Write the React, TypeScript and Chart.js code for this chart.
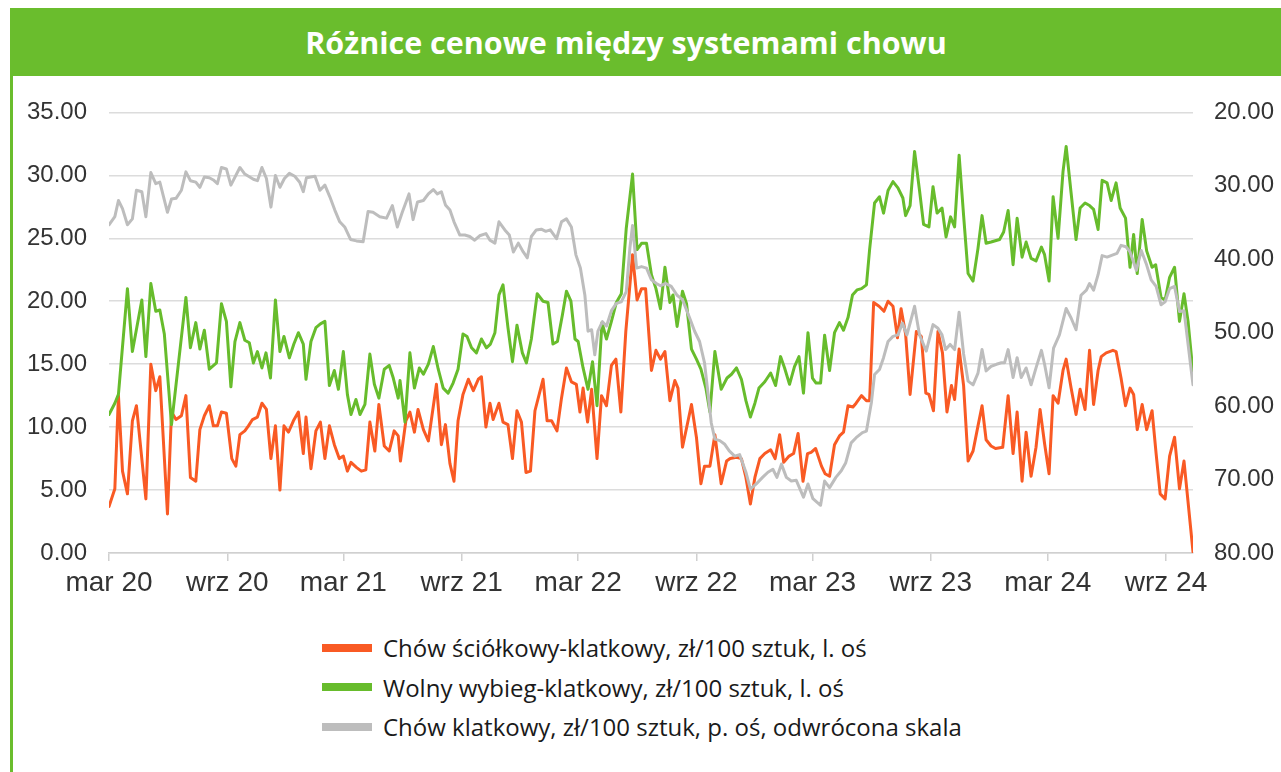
import React, { useEffect, useRef } from "react";
import { Chart, registerables } from "chart.js";

Chart.register(...registerables);

const TITLE = "Różnice cenowe między systemami chowu";

// x axis: weeks since 1 March 2020
const xTickWeeks = [0, 26.3, 52.1, 78.4, 104.3, 130.6, 156.4, 182.7, 208.7, 235.0];
const xTickLabels = ["mar 20", "wrz 20", "mar 21", "wrz 21", "mar 22", "wrz 22", "mar 23", "wrz 23", "mar 24", "wrz 24"];
const xMaxWeek = 241;

const leftAxis = { min: 0, max: 35, step: 5 };
const rightAxis = { min: 20, max: 80, step: 10 };

const seriesNames = [
  "Chów ściółkowy-klatkowy, zł/100 sztuk, l. oś",
  "Wolny wybieg-klatkowy, zł/100 sztuk, l. oś",
  "Chów klatkowy, zł/100 sztuk, p. oś, odwrócona skala",
];
const seriesColors = ["#F95A24", "#67BC2C", "#BDBDBD"];

// [week, value]
const litterVsCage = [
  [0, 3.7], [1.3, 5.1], [2.1, 12.5], [3, 6.5], [4.1, 4.7], [5.2, 10.5], [6.1, 11.7], [8.2, 4.3], [9.3, 15.0], [10.4, 12.9],
  [11.3, 14.0], [13, 3.1], [13.9, 11.2], [14.9, 10.6], [16.1, 10.9], [17.1, 12.5], [18.1, 6.0], [19.3, 5.7], [20.2, 9.8], [21.2, 10.9],
  [22.3, 11.7], [23.2, 10.1], [24.1, 10.1], [25, 11.2], [26.1, 11.1], [27.3, 7.5], [28.2, 6.9], [29.1, 9.4], [30.2, 9.7], [31, 10.1],
  [31.9, 10.6], [33, 10.8], [34, 11.9], [35, 11.4], [36, 7.5], [37, 10.1], [38, 5.0], [38.9, 10.1], [39.9, 9.6], [41, 10.5],
  [42.1, 11.2], [43.2, 7.9], [43.8, 10.8], [44.9, 6.7], [46, 9.7], [47, 10.4], [48, 7.5], [49, 10.1], [50.1, 8.6], [51.2, 7.5],
  [52.1, 7.7], [53, 6.5], [53.8, 7.2], [55, 6.8], [56.1, 6.5], [57.1, 6.6], [58, 10.4], [59.1, 8.1], [60, 11.8], [61.2, 8.5],
  [62.3, 8.1], [63.4, 9.7], [64.3, 9.3], [64.8, 7.3], [66, 10.5], [66.9, 11.2], [67.9, 9.6], [68.7, 11.4], [69.9, 9.8], [71, 8.9],
  [72.8, 13.4], [73.9, 8.6], [74.8, 10.2], [75.8, 7.1], [76.7, 5.7], [77.6, 10.5], [78.7, 12.6], [79.9, 13.8], [81, 12.9], [82.1, 13.8],
  [82.8, 14.0], [83.8, 10.0], [84.7, 11.9], [85.4, 10.6], [86.7, 11.9], [87.6, 10.4], [88.7, 10.2], [89.7, 7.5], [90.7, 11.3], [91.7, 10.4],
  [92.7, 6.4], [93.7, 6.5], [94.7, 11.3], [96.5, 13.8], [97.4, 10.5], [98.4, 10.5], [99.6, 9.7], [100.6, 12.3], [101.7, 14.7], [102.8, 13.6],
  [103.9, 13.4], [104.7, 11.2], [105.4, 13.1], [106.4, 10.4], [107.3, 13.0], [108.5, 7.5], [109.5, 12.5], [110.6, 11.7], [111.7, 14.9], [112.7, 15.4],
  [113.8, 11.2], [114.9, 17.6], [116.4, 23.7], [117.4, 20.1], [118.4, 21.0], [119.3, 21.0], [120.6, 14.5], [121.6, 16.1], [122.6, 15.4], [123.6, 16.0],
  [124.7, 12.1], [125.8, 13.7], [126.5, 13.1], [127.5, 8.4], [129.5, 11.8], [130.6, 9.2], [131.6, 5.5], [132.4, 6.9], [133.6, 6.9], [134.7, 9.4],
  [136.1, 5.5], [137.3, 7.3], [138.1, 7.5], [139.5, 7.6], [140.6, 7.5], [141.6, 6.0], [142.6, 3.9], [143.6, 6.0], [144.7, 7.5], [145.8, 7.9],
  [147.1, 8.2], [148.1, 7.5], [149.1, 9.4], [150, 7.2], [151.2, 7.7], [152.2, 7.9], [153.2, 9.5], [154.3, 5.7], [155.3, 7.9], [156.1, 8.0],
  [157.1, 8.3], [158.4, 6.9], [159.2, 6.3], [160.2, 6.1], [161.3, 8.6], [162.4, 9.3], [163.3, 9.6], [164.3, 11.7], [165.4, 11.6], [166.1, 11.9],
  [167.3, 12.5], [168.4, 12.1], [169.1, 12.1], [170, 19.9], [171.2, 19.6], [172.3, 19.2], [173.2, 20.0], [174.3, 19.6], [175.3, 17.1], [176.1, 19.4],
  [177.1, 17.4], [178.1, 12.6], [179.5, 17.6], [180.6, 17.2], [181.6, 12.7], [182.3, 12.6], [183.3, 11.3], [184.3, 17.6], [185.3, 15.9], [186.3, 11.2],
  [187.3, 13.3], [188, 12.2], [189, 16.2], [190, 13.3], [191, 7.3], [192.1, 8.1], [193.2, 10.1], [194.1, 11.7], [195, 9.0], [196.1, 8.5],
  [197.1, 8.3], [198.7, 8.4], [199.9, 12.5], [201, 7.9], [201.9, 11.2], [203, 5.7], [203.9, 9.6], [205, 6.1], [206.1, 8.4], [207, 11.4],
  [208, 8.7], [209, 6.3], [209.9, 12.5], [211, 11.9], [212.1, 14.5], [212.8, 15.4], [213.9, 13.1], [215, 11.0], [215.9, 13.0], [217, 11.4],
  [218, 16.1], [218.9, 11.8], [219.9, 14.5], [220.6, 15.6], [221.7, 15.9], [223.2, 16.1], [223.9, 16.0], [225, 13.9], [226, 11.7], [227, 13.1],
  [227.8, 12.6], [228.6, 9.8], [229.7, 11.8], [230.7, 9.8], [231.9, 11.3], [232.8, 7.9], [233.7, 4.7], [234.8, 4.3], [235.8, 7.7], [236.9, 9.2],
  [238, 5.1], [239, 7.3], [241, 0.1],
];

const freeRangeVsCage = [
  [0, 11.0], [1.3, 11.9], [2.1, 12.6], [4.1, 21.0], [5.2, 16.0], [7.3, 20.1], [8.2, 15.6], [9.3, 21.4], [10.4, 19.2], [11.3, 19.3],
  [12.3, 17.4], [13.9, 10.2], [17.1, 20.3], [18.1, 16.3], [19.3, 18.3], [20.2, 16.2], [21.2, 17.7], [22.3, 14.6], [23.9, 15.1], [25, 19.8],
  [26.1, 18.4], [27.1, 13.2], [28, 16.8], [29.1, 18.3], [30.2, 16.9], [31.2, 16.7], [32.1, 15.1], [33, 16.0], [34, 14.7], [34.9, 15.9],
  [35.9, 13.9], [37, 20.1], [38, 16.0], [38.9, 17.2], [40.1, 15.5], [41.1, 16.6], [42.1, 17.5], [43.2, 16.6], [43.8, 13.8], [44.9, 16.8],
  [46, 17.9], [47, 18.2], [48, 18.4], [49, 13.3], [50.1, 14.5], [51, 13.0], [52.1, 16.0], [53, 12.6], [53.8, 11.0], [54.9, 12.2],
  [55.8, 11.0], [56.9, 11.8], [58, 15.8], [59, 13.4], [60, 12.3], [61.2, 14.6], [62.3, 14.9], [63.2, 13.9], [64.3, 12.3], [64.7, 13.7],
  [65.8, 10.4], [66.9, 15.9], [67.9, 13.1], [69, 14.7], [69.9, 14.2], [71, 15.0], [72.1, 16.4], [73.2, 14.6], [74.3, 13.1], [75.4, 12.7],
  [76.5, 13.5], [77.6, 14.6], [78.7, 17.4], [79.6, 17.2], [80.6, 16.3], [81.7, 15.9], [82.8, 17.0], [83.9, 16.3], [84.8, 16.6], [85.8, 17.5],
  [86.7, 20.5], [87.6, 21.3], [88.7, 17.9], [89.7, 15.2], [90.7, 18.1], [91.9, 15.9], [92.8, 15.1], [93.9, 17.0], [95.2, 20.6], [96.5, 20.0],
  [97.6, 19.9], [98.7, 16.6], [99.7, 16.8], [100.8, 18.9], [101.7, 20.8], [102.7, 20.0], [103.6, 17.0], [104.3, 16.8], [105.4, 14.7], [106.5, 13.0],
  [107.5, 15.2], [108.5, 11.7], [109.6, 18.3], [110.6, 17.0], [111.7, 18.4], [112.8, 19.9], [113.9, 20.6], [115, 25.8], [116.4, 30.1], [117.4, 24.1],
  [118.4, 24.6], [119.5, 24.6], [120.6, 22.1], [121.6, 21.0], [122.6, 19.4], [123.6, 22.7], [124.7, 19.9], [125.4, 20.5], [126.3, 18.0], [127.5, 20.8],
  [128.4, 19.8], [129.5, 16.2], [130.6, 15.4], [131.6, 14.6], [132.7, 13.1], [133.6, 11.2], [134.7, 16.0], [136.1, 13.0], [137.4, 13.9], [138.4, 14.2],
  [139.5, 14.7], [140.6, 13.8], [141.6, 12.1], [142.6, 10.8], [143.6, 11.9], [144.5, 13.1], [145.8, 13.6], [147.1, 14.3], [148.2, 13.3], [149.3, 15.6],
  [150.2, 14.7], [151.3, 13.4], [152.4, 14.8], [153.4, 15.6], [154.4, 12.7], [155.4, 17.5], [156.4, 13.9], [157.2, 13.5], [158.2, 13.5], [159.1, 17.3],
  [160.2, 14.5], [161.3, 17.5], [162.4, 18.3], [163.3, 17.7], [164.3, 18.7], [165.3, 20.5], [166.3, 20.9], [167.3, 21.0], [168.4, 21.3], [169.1, 24.1],
  [170.2, 27.8], [171.3, 28.3], [172.2, 27.0], [173.2, 28.8], [174.3, 29.5], [175.4, 29.0], [176.5, 28.2], [177.1, 26.8], [178.1, 27.6], [179.1, 31.9],
  [180.2, 28.8], [181.1, 26.1], [182.3, 25.9], [183.2, 29.1], [184.1, 27.0], [185.2, 27.4], [186.1, 25.1], [187.1, 26.7], [188, 25.9], [189, 31.6],
  [190, 26.8], [191, 22.2], [192.1, 21.6], [193.2, 24.2], [194.1, 26.8], [195, 24.6], [196.1, 24.7], [198, 24.9], [198.9, 25.5], [199.9, 27.2],
  [201, 22.9], [201.9, 26.6], [203, 23.5], [203.9, 24.7], [205, 23.4], [206.1, 23.2], [207.3, 24.3], [208, 23.7], [209, 21.6], [209.9, 28.3],
  [211, 25.0], [212.1, 30.3], [212.8, 32.3], [213.9, 28.6], [215, 24.9], [215.9, 27.4], [217, 27.8], [218, 27.6], [218.9, 27.3], [219.9, 25.7],
  [220.8, 29.6], [221.9, 29.4], [222.8, 28.0], [223.9, 29.4], [224.8, 27.4], [226, 26.6], [227, 22.7], [227.8, 25.3], [228.6, 22.2], [229.7, 26.5],
  [230.7, 24.0], [231.9, 22.7], [232.7, 22.9], [233.9, 20.3], [234.8, 20.1], [235.8, 21.9], [236.9, 22.7], [238, 18.4], [239, 20.6], [239.9, 18.4],
  [241, 14.3],
];

const cagePrice = [
  [0, 35.3], [1.3, 34.2], [2.1, 32.0], [3, 33.1], [4.1, 35.3], [5.2, 34.5], [6.1, 30.6], [7.3, 30.8], [8.2, 34.2], [9.3, 28.2],
  [10.4, 29.7], [11.3, 29.5], [13, 33.6], [13.9, 31.8], [14.9, 31.7], [16.1, 30.6], [17.1, 28.1], [18.1, 29.3], [19.3, 29.5], [20.2, 30.2],
  [21.2, 28.8], [22.3, 28.9], [23.2, 29.2], [24.1, 29.7], [25, 27.5], [26.1, 27.7], [27.1, 29.9], [29.1, 27.5], [30.2, 28.4], [32.1, 29.1],
  [33, 29.3], [34, 27.5], [35, 29.0], [36, 32.9], [37, 28.6], [38, 30.2], [39, 29.0], [40.1, 28.3], [41.3, 28.7], [42.4, 29.5],
  [43.2, 30.8], [43.9, 28.9], [45.8, 28.7], [46.9, 30.6], [48, 29.9], [49.1, 31.5], [50.2, 33.3], [51.3, 34.9], [52.4, 35.6], [53.7, 37.3],
  [55, 37.5], [56.5, 37.6], [57.6, 33.5], [58.7, 33.6], [60.2, 34.2], [61.7, 34.4], [63, 32.7], [64.1, 35.6], [65.2, 33.6], [66.7, 31.1],
  [67.6, 34.6], [68.6, 32.2], [69.9, 32.0], [71, 31.1], [72.1, 30.5], [73, 31.1], [73.9, 30.8], [74.8, 32.6], [75.8, 33.3], [76.7, 34.9],
  [78, 36.7], [79.1, 36.7], [80.2, 36.9], [81.3, 37.4], [82.4, 36.8], [83.8, 36.5], [84.7, 37.4], [85.8, 37.8], [86.7, 34.9], [88, 36.0],
  [89, 36.7], [89.9, 39.0], [91, 37.8], [92.1, 39.0], [93, 39.8], [93.9, 36.9], [95, 36.0], [96.1, 35.9], [97.1, 36.2], [98.1, 36.0],
  [99.5, 37.2], [100.6, 34.9], [101.7, 34.5], [102.8, 35.6], [103.8, 39.4], [104.8, 41.2], [105.8, 44.9], [106.5, 49.8], [107.3, 49.6], [108, 53.0],
  [108.7, 49.8], [109.7, 48.5], [110.6, 49.1], [111.7, 47.0], [112.8, 46.0], [113.9, 45.8], [115, 44.4], [115.8, 38.5], [116.4, 35.4], [117.3, 41.2],
  [118.4, 41.0], [119.5, 41.2], [120.6, 42.8], [121.7, 43.3], [122.6, 43.6], [123.8, 43.3], [125, 43.7], [126.3, 44.9], [127.5, 45.5], [129.1, 48.0],
  [130.2, 49.8], [131.3, 51.2], [132.4, 54.1], [133.2, 58.4], [133.9, 62.3], [134.7, 64.5], [135.8, 64.7], [136.9, 65.2], [137.9, 66.1], [139.1, 66.8],
  [140.2, 66.6], [141.6, 69.0], [142.6, 71.3], [143.9, 70.6], [145.3, 69.7], [146.5, 69.0], [147.6, 68.6], [148.5, 69.7], [149.5, 67.9], [150.6, 69.7],
  [151.7, 70.2], [152.8, 70.1], [154.4, 72.4], [155.4, 70.6], [156.5, 72.6], [158.2, 73.5], [159.1, 70.2], [160.2, 71.1], [161.6, 69.7], [162.8, 68.8],
  [163.8, 67.7], [165, 65.0], [166.1, 64.3], [167.5, 63.6], [168.4, 63.4], [169.5, 59.5], [170.2, 55.7], [171.3, 55.0], [172.2, 53.4], [173.2, 51.2],
  [174.3, 50.5], [175.4, 50.3], [176.4, 48.7], [177.4, 50.3], [179.1, 46.4], [180.2, 50.3], [181.7, 52.5], [183.2, 48.9], [184.3, 49.4], [185.2, 50.3],
  [186, 52.3], [187, 51.6], [188, 52.3], [189, 47.2], [190, 52.9], [191, 56.6], [192.1, 57.1], [193.2, 55.5], [194.1, 52.3], [195, 55.2],
  [196.1, 54.6], [197.3, 54.3], [198.4, 54.1], [199.1, 54.1], [199.9, 52.3], [201, 56.1], [201.9, 53.4], [202.8, 56.1], [203.9, 54.8], [205, 57.1],
  [206.1, 54.8], [207.3, 52.4], [208, 54.3], [209, 57.5], [210, 52.1], [211.3, 50.3], [212.8, 46.7], [213.9, 48.0], [215, 49.6], [216.1, 44.9],
  [217.3, 44.2], [218, 43.3], [218.9, 44.2], [219.9, 42.1], [220.8, 39.5], [221.9, 39.7], [223.2, 39.4], [224.1, 39.2], [225, 38.1], [226.1, 38.3],
  [227, 39.0], [228.4, 41.5], [229.5, 38.8], [230.6, 40.6], [231.7, 42.8], [232.8, 43.7], [233.9, 46.2], [234.8, 45.8], [235.8, 44.0], [236.9, 43.7],
  [238, 47.1], [239, 47.0], [241, 57.1],
];

const GREEN = "#6ABD2D";
const AXIS_FONT = "'Liberation Sans', Arial, sans-serif";
const TEXT_FONT = "'Open Sans', 'Noto Sans', sans-serif";

function toPoints(rows: number[][]) {
  return rows.map(([x, y]) => ({ x, y }));
}

function ChartCanvas() {
  const ref = useRef<HTMLCanvasElement | null>(null);
  useEffect(() => {
    if (!ref.current) return;
    const chart = new Chart(ref.current, {
      type: "line",
      data: {
        datasets: [
          {
            label: seriesNames[0],
            data: toPoints(litterVsCage),
            borderColor: seriesColors[0],
            backgroundColor: seriesColors[0],
            yAxisID: "y",
            order: 2,
          },
          {
            label: seriesNames[1],
            data: toPoints(freeRangeVsCage),
            borderColor: seriesColors[1],
            backgroundColor: seriesColors[1],
            yAxisID: "y",
            order: 1,
          },
          {
            label: seriesNames[2],
            data: toPoints(cagePrice),
            borderColor: seriesColors[2],
            backgroundColor: seriesColors[2],
            yAxisID: "y2",
            order: 0,
          },
        ],
      },
      options: {
        animation: false,
        responsive: false,
        parsing: false,
        normalized: true,
        layout: { padding: { top: 34, left: 0, right: 0, bottom: 0 } },
        elements: {
          line: { borderWidth: 3, tension: 0, borderJoinStyle: "round", borderCapStyle: "round" },
          point: { radius: 0, hoverRadius: 0 },
        },
        plugins: {
          legend: { display: false },
          tooltip: { enabled: false },
          title: { display: false },
        },
        scales: {
          x: {
            type: "linear",
            min: 0,
            max: xMaxWeek,
            afterBuildTicks: (scale: any) => {
              scale.ticks = xTickWeeks.map((v) => ({ value: v }));
            },
            afterFit: (scale: any) => {
              scale.height = 67;
            },
            ticks: {
              autoSkip: false,
              maxRotation: 0,
              minRotation: 0,
              padding: 5,
              color: "#333333",
              font: { family: AXIS_FONT, size: 28 },
              callback: (_v: any, i: number) => xTickLabels[i],
            },
            grid: {
              drawOnChartArea: false,
              drawTicks: true,
              tickLength: 8,
              color: "#d0d0d0",
              lineWidth: 1.5,
            },
            border: { display: true, color: "#d0d0d0", width: 1.5 },
          },
          y: {
            type: "linear",
            position: "left",
            min: leftAxis.min,
            max: leftAxis.max,
            afterFit: (scale: any) => {
              scale.width = 96;
            },
            ticks: {
              stepSize: leftAxis.step,
              padding: 22,
              color: "#333333",
              font: { family: AXIS_FONT, size: 24 },
              callback: (v: any) => Number(v).toFixed(2),
            },
            grid: { color: "#dcdcdc", lineWidth: 1.5, drawTicks: false },
            border: { display: false },
          },
          y2: {
            type: "linear",
            position: "right",
            reverse: true,
            min: rightAxis.min,
            max: rightAxis.max,
            afterFit: (scale: any) => {
              scale.width = 88;
            },
            ticks: {
              stepSize: rightAxis.step,
              padding: 21,
              color: "#333333",
              font: { family: AXIS_FONT, size: 24 },
              callback: (v: any) => Number(v).toFixed(2),
            },
            grid: { drawOnChartArea: false, drawTicks: false },
            border: { display: false },
          },
        },
      },
    } as any);
    return () => chart.destroy();
  }, []);
  return <canvas ref={ref} width={1268} height={544} style={{ display: "block", width: 1268, height: 544 }} />;
}

export default function App() {
  return (
    <div style={{ position: "absolute", left: 0, top: 0, width: 1281, height: 772, overflow: "hidden", background: "#ffffff" }}>
      <div
        style={{
          position: "absolute",
          left: 10,
          top: 8,
          width: 1271,
          height: 68,
          background: GREEN,
          color: "#ffffff",
          fontFamily: TEXT_FONT,
          fontWeight: 700,
          fontSize: 30.5,
          display: "flex",
          alignItems: "center",
          justifyContent: "center",
          paddingRight: 39,
          boxSizing: "border-box",
        }}
      >
        {TITLE}
      </div>
      <div style={{ position: "absolute", left: 10, top: 8, width: 3, height: 764, background: GREEN }} />
      <div style={{ position: "absolute", left: 13, top: 76 }}>
        <ChartCanvas />
      </div>
      <div style={{ position: "absolute", left: 322, top: 628, fontFamily: TEXT_FONT, fontSize: 24, color: "#1a1a1a" }}>
        {seriesNames.map((name, i) => (
          <div key={name} style={{ display: "flex", alignItems: "center", height: 39.5 }}>
            <div style={{ width: 50, height: 8, background: seriesColors[i], marginRight: 11 }} />
            <span style={{ whiteSpace: "nowrap" }}>{name}</span>
          </div>
        ))}
      </div>
    </div>
  );
}
